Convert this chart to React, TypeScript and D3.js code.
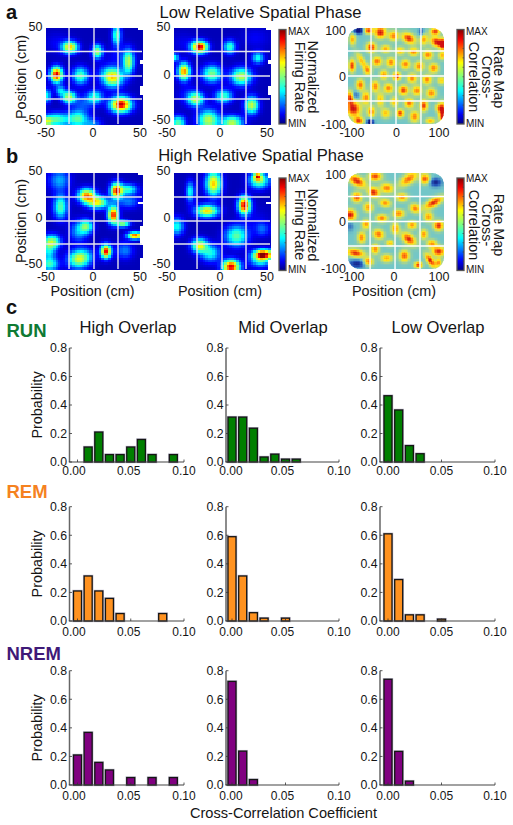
import React from "react";
import * as d3 from "d3";

const FONT = "'Liberation Sans', Arial, sans-serif";
const TEXT = "#151515";

// peaks: [x cm, y cm, amplitude, sigma along, sigma across, rotation deg]
type Peak = number[];
const lowMapA: Peak[] = [
  [-39, 2, 1, 3.5, 4.5], [-25, 30.5, 0.72, 4.5, 3.5], [-14, 1, 0.45, 4.5, 5], [3.5, 26, 0.55, 3, 4],
  [23.6, 43, 0.45, 2.6, 6], [19.4, -0.7, 0.72, 6, 5.5], [36, 15, 0.55, 3.2, 7], [28, -29, 1, 6, 4.5],
  [-26, -21.5, 0.6, 4, 3.5], [-35, -14.6, 0.3, 3, 3], [1, -21.5, 0.4, 4.5, 4], [-49, -20, 0.35, 2.5, 4],
  [-39, -45, 0.45, 7, 4], [-49, -47, 0.42, 3, 3], [-17, -44, 0.45, 6, 5], [-1, -49, 0.2, 5, 3],
  [-11, -28, 0.14, 6, 5], [28, 22, 0.08, 8, 6], [-38, 35, 0.06, 8, 6], [10, 5, 0.06, 5, 5],
];
const lowMapB: Peak[] = [
  [-23.4, 30.8, 1, 4.6, 3.5], [-39.5, 5.2, 0.8, 3.5, 5], [-49, 20, 0.36, 2.2, 2.4], [-10.5, 2.8, 0.5, 5.5, 5],
  [8, 30.8, 0.4, 3.5, 4], [20, 0, 0.58, 6, 5], [37.4, 19.6, 0.36, 3.5, 3.5], [-27, -23.4, 0.55, 4.5, 4],
  [1.7, -20.6, 0.42, 5, 4], [30.8, -29.7, 0.6, 4, 5], [-14, -45.5, 0.58, 6, 6], [10.5, -48, 0.58, 6, 4],
  [-45.5, -48, 0.45, 4, 4], [-35, -20, 0.1, 6, 6], [35, 40, 0.06, 8, 6], [-40, 35, 0.05, 7, 6],
];
const highMapA: Peak[] = [
  [-7.6, 27, 0.8, 5, 4], [3.5, 20, 0.65, 6, 3.5], [23.6, 32, 0.95, 3.5, 4.5], [36, 33.7, 0.4, 5, 3],
  [20, 7, 0.92, 3, 5], [30, -2.4, 0.55, 4, 2], [-35, 15.6, 0.45, 4, 7], [-36, 43, 0.25, 6, 6],
  [-8, -5, 0.45, 4, 4], [-16, -10, 0.25, 5, 6], [-44, -21, 0.55, 5, 4], [-47, -31, 0.3, 4, 5],
  [43, -14.6, 0.88, 4.5, 2], [12.5, -31, 0.98, 3, 4], [-17, -40, 0.45, 6, 5], [-46, -44.5, 0.4, 5, 4],
  [-11, -36, 0.28, 6, 5], [32, -30, 0.2, 5, 5], [36, 21, 0.2, 6, 4],
];
const highMapB: Peak[] = [
  [-8.7, 39.5, 0.72, 4.5, 7], [-33, 31, 0.35, 2.5, 6], [-15.7, 11, 0.7, 6.5, 3.5], [23.4, 17, 1, 3.5, 5],
  [38.5, 43, 0.55, 5.5, 4.5], [37, 47, 0.62, 2.2, 2], [-47, -5, 0.36, 4, 5], [-23.4, -25, 0.65, 4.5, 4],
  [-12, -33, 0.36, 5.5, 5], [15, -15, 0.46, 6.5, 6], [43, -34, 0.98, 5.5, 2.8], [40, -40, 0.4, 6, 4],
  [9.5, -47, 0.98, 5, 4], [42, -8, 0.16, 4, 4], [35, 0, 0.05, 8, 8],
];
const lowCorr: Peak[] = [
  [-58, 96, 0.9, 6, 4], [-33, 92, 1, 7, 7], [-6, 85, 0.75, 6, 6], [26, 80, 0.95, 9, 6, -30], [57, 78, 0.65, 5, 7],
  [-91, 78, 0.65, 4, 7], [81, 94, 0.9, 6, 4], [85, 72, 1, 9, 6, -30], [98, 68, 0.9, 4, 7], [-52, 61, 0.95, 6, 6],
  [-22, 58, 0.65, 6, 5], [8, 54, 0.6, 6, 5], [36, 52, 0.75, 6, 5], [66, 46, 0.75, 6, 6], [96, 44, 0.6, 5, 5],
  [-40, 32, 0.8, 6, 6], [-11, 30, 0.75, 6, 6], [19, 26, 0.75, 6, 6], [48, 22, 0.75, 6, 6], [78, 18, 0.75, 6, 6],
  [-72, 33, 0.6, 12, 4, -60], [-59, 13, 0.6, 5, 6], [-92, 23, 0.9, 4, 8], [-26, 4, 0.7, 5, 6], [1, 1, 1, 5, 5],
  [33, -3, 0.75, 6, 6], [64, -6, 0.75, 6, 6], [94, -8, 0.55, 5, 5], [-75, -17, 0.8, 5, 7], [-44, -20, 0.75, 5, 7],
  [-16, -24, 0.75, 6, 6], [15, -28, 0.9, 6, 6], [43, -29, 0.75, 6, 6], [73, -34, 0.75, 6, 6], [-63, -44, 0.75, 5, 8],
  [-33, -48, 0.6, 5, 9], [-4, -52, 0.6, 5, 6], [27, -55, 0.8, 6, 6], [57, -60, 0.9, 5, 7], [88, -64, 0.4, 5, 5],
  [-52, -73, 0.75, 5, 7], [-22, -76, 0.6, 6, 6], [8, -76, 0.9, 5, 5], [38, -83, 0.75, 6, 7], [71, -92, 0.6, 6, 4],
  [-89, -67, 1, 9, 10], [-96, -43, 0.9, 4, 8], [-78, -92, 0.85, 6, 5], [96, -71, 1, 5, 10], [98, -88, 0.6, 4, 5],
  [-54, -95, -0.9, 4, 4], [-78, 96, -0.8, 6, 4], [52, 92, -0.5, 3, 5], [-85, -39, -0.35, 5, 5],
];
const highCorr: Peak[] = [
  [-82, 85, 0.95, 12, 6, -30], [-44, 94, 0.9, 8, 5], [-19.5, 70, 0.75, 8, 6, -10], [26, 89, 0.8, 13, 6, 35], [60, 89, 0.85, 6, 6],
  [-47, 61, 0.95, 7, 6, -30], [-82, 51, 0.9, 6, 6], [12, 51, 0.75, 7, 5], [78, 40, 0.95, 13, 5, 30], [-23, 39, 0.7, 7, 5, -10],
  [39, 28, 0.75, 6.5, 5.5, -25], [-58, 30, 0.7, 6, 6], [67, 10, 0.7, 5.5, 6], [-96, 14, 1, 7, 7], [5, 17, 0.75, 7, 5],
  [-30, 7, 0.75, 7, 5], [-63, -5, 0.7, 5, 6], [-2, -14, 0.7, 5, 7], [33, -7, 0.7, 6, 5], [88, -8, 0.95, 6, 6],
  [-37, -26, 0.8, 7, 6, -25], [26, -36, 0.95, 10, 6, -40], [-72, -33, 0.75, 5, 7], [57, -26, 0.7, 5, 6], [-13, -45, 0.6, 5, 4],
  [74, -46, 0.7, 6, 5], [-44, -57, 0.75, 5, 6], [17, -71, 0.85, 6, 7], [-20, -76, 0.65, 7, 5], [-58, -83, 0.8, 6, 5],
  [-85, -65, 0.95, 11, 5, -10], [46, -90, 0.9, 5, 4], [71, -81, 0.95, 10, 4, -55], [88, -62, 0.95, 8, 6], [88, -85, 0.7, 4, 5],
  [82, 82, -0.6, 7, 5], [-82, -88, -0.6, 10, 5], [-96, -8, -0.3, 4, 6],
];

// no-data areas: [x0, x1, y0, y1] in cm
const holesLowA = [[44.4, 50, 47, 50], [47.5, 50, 13, 17], [47.5, 50, -19, -10]];
const holesLowB = [[45.5, 50, 48, 50], [48, 50, 12, 17], [48, 50, -19, -10]];
const holesHighA = [[44, 50, 47, 50], [46, 50, 18, 20], [48, 50, -25, -4], [47, 50, -50, -38]];
const holesHighB = [[47, 50, 46, 50], [46, 50, 17, 20], [48, 50, -50, -41]];

const binStarts = d3.range(0, 10).map((i) => i / 100);
const yTicks = [0, 0.2, 0.4, 0.6, 0.8];
const xTicks = [0, 0.05, 0.1];

const runHigh = [0, 0.105, 0.21, 0.052, 0.052, 0.105, 0.158, 0.052, 0, 0.052];
const runMid = [0.315, 0.315, 0.237, 0.035, 0.055, 0.02, 0.02, 0, 0, 0];
const runLow = [0.465, 0.365, 0.115, 0.058, 0, 0, 0, 0, 0, 0];
const remHigh = [0.21, 0.315, 0.21, 0.158, 0.052, 0, 0, 0, 0.052, 0];
const remMid = [0.59, 0.315, 0.058, 0.02, 0, 0.02, 0, 0, 0, 0];
const remLow = [0.61, 0.29, 0.043, 0.043, 0, 0.013, 0, 0, 0, 0];
const nremHigh = [0.21, 0.368, 0.158, 0.105, 0, 0.052, 0, 0.052, 0, 0.052];
const nremMid = [0.725, 0.237, 0.038, 0, 0, 0, 0, 0, 0, 0];
const nremLow = [0.74, 0.235, 0.027, 0, 0, 0, 0, 0, 0, 0];

const jetStops = [0, 0.11, 0.35, 0.5, 0.65, 0.89, 1];
const jetColors = ["#00007f", "#0000ff", "#00ffff", "#80ff80", "#ffff00", "#ff0000", "#7f0000"];
const jet = d3.scaleLinear<string>().domain(jetStops).range(jetColors).clamp(true);
const corrStops = [0, 0.2, 0.4, 0.56, 0.7, 0.86, 1];
const corrColors = ["#101880", "#2a60c0", "#72c6c8", "#c4dc70", "#ffe41a", "#ff7a10", "#d01010"];
const corrColor = d3.scaleLinear<string>().domain(corrStops).range(corrColors).clamp(true);

function fieldAt(peaks: Peak[], x: number, y: number, widen: number) {
  let v = 0;
  for (const [px, py, a, sx0, sy0, rot = 0] of peaks) {
    const sx = sx0 * widen;
    const sy = sy0 * widen;
    const r = (rot * Math.PI) / 180;
    const dx = x - px;
    const dy = y - py;
    const u = dx * Math.cos(r) + dy * Math.sin(r);
    const w = -dx * Math.sin(r) + dy * Math.cos(r);
    v += a * Math.exp(-0.5 * ((u * u) / (sx * sx) + (w * w) / (sy * sy)));
  }
  return v;
}

function Label({ x, y, size = 12, anchor = "middle", rotate = 0, weight = "normal", fill = TEXT, children }: any) {
  return (
    <text
      x={rotate ? 0 : x}
      y={rotate ? 0 : y}
      transform={rotate ? `translate(${x},${y}) rotate(${rotate})` : undefined}
      fontFamily={FONT}
      fontSize={size}
      fontWeight={weight}
      fill={fill}
      textAnchor={anchor}
    >
      {children}
    </text>
  );
}

function HeatPanel({ peaks, holes = [], left, top, extent, gridX, gridY, corr = false, id, xLabels, yLabels, yRight, xBase }: any) {
  const size = 96;
  const n = corr ? 64 : 40;
  const x = d3.scaleLinear().domain([-extent, extent]).range([left, left + size]);
  const y = d3.scaleLinear().domain([-extent, extent]).range([top + size, top]);
  const step = (2 * extent) / n;
  const cells = [];
  for (let i = 0; i < n; i++) {
    for (let j = 0; j < n; j++) {
      const cx = -extent + (i + 0.5) * step;
      const cy = -extent + (j + 0.5) * step;
      if (holes.some((h: number[]) => cx >= h[0] && cx <= h[1] && cy >= h[2] && cy <= h[3])) continue;
      const f = fieldAt(peaks, cx, cy, corr ? 1.2 : 1.2);
      const fill = corr ? corrColor(0.4 + f * 0.6) : jet(0.05 + f * 0.9);
      cells.push(
        <rect key={i + "-" + j} x={x(cx - step / 2)} y={y(cy + step / 2)} width={size / n + 0.6} height={size / n + 0.6} fill={fill} />
      );
    }
  }
  return (
    <g>
      {corr && (
        <clipPath id={id}>
          <rect x={left} y={top} width={size} height={size} rx={12} />
        </clipPath>
      )}
      <g clipPath={corr ? `url(#${id})` : undefined}>
        <g shapeRendering="crispEdges">{cells}</g>
        {gridX.map((g: number) => (
          <line key={"x" + g} x1={x(g)} x2={x(g)} y1={top} y2={top + size} stroke={corr ? "#fff" : "#e6e6ee"} strokeWidth={1.4} />
        ))}
        {gridY.map((g: number) => (
          <line key={"y" + g} x1={left} x2={left + size} y1={y(g)} y2={y(g)} stroke={corr ? "#fff" : "#e6e6ee"} strokeWidth={1.4} />
        ))}
      </g>
      {yLabels.map((t: any) => (
        <Label key={"yl" + t.text} x={yRight} y={t.y} anchor="end" size={12.5}>{t.text}</Label>
      ))}
      {xLabels.map((t: any) => (
        <Label key={"xl" + t.text} x={t.x} y={xBase} size={12.5}>{t.text}</Label>
      ))}
    </g>
  );
}

function ColorBar({ x, top, bottom, id, maxY, minY }: any) {
  const stops = d3.range(0, 1.001, 0.05);
  const ticks = d3.range(1, 10).map((i) => top + ((bottom - top) * i) / 10);
  return (
    <g>
      <defs>
        <linearGradient id={id} x1="0" y1="1" x2="0" y2="0">
          {stops.map((s) => (
            <stop key={s} offset={s} stopColor={jet(s)} />
          ))}
        </linearGradient>
      </defs>
      <rect x={x} y={top} width={7} height={bottom - top} fill={`url(#${id})`} stroke="#555" strokeWidth={1.3} />
      {ticks.map((t) => (
        <line key={t} x1={x + 5.5} x2={x + 7} y1={t} y2={t} stroke="#444" strokeWidth={0.7} />
      ))}
      <Label x={x + 9} y={maxY} anchor="start" size={10}>MAX</Label>
      <Label x={x + 9} y={minY} anchor="start" size={10}>MIN</Label>
    </g>
  );
}

function Hist({ values, color, col, rowTop, rowBase, labelBase, probability }: any) {
  const c = columns[col];
  const x = d3.scaleLinear().domain([0, 0.1]).range([c.x0, c.x1]);
  const y = d3.scaleLinear().domain([0, 0.8]).range([rowBase, rowTop]);
  const bw = 8;
  return (
    <g>
      {binStarts.map((b, i) =>
        values[i] > 0 ? (
          <g key={b}>
            <rect x={x(b) - bw / 2} y={y(values[i])} width={bw} height={rowBase - y(values[i])} fill="none" stroke="#b9b6c8" strokeWidth={2.4} />
            <rect x={x(b) - bw / 2} y={y(values[i])} width={bw} height={rowBase - y(values[i])} fill={color} stroke="#151515" strokeWidth={1.3} />
          </g>
        ) : null
      )}
      <line x1={c.axis} x2={c.axis} y1={rowTop} y2={rowBase} stroke="#666" strokeWidth={1.5} />
      <line x1={c.axis - 0.7} x2={c.x1} y1={rowBase} y2={rowBase} stroke="#444" strokeWidth={1.2} />
      {yTicks.map((t) => (
        <g key={t}>
          <line x1={c.axis} x2={c.axis + 2.5} y1={y(t)} y2={y(t)} stroke="#333" strokeWidth={0.8} />
          <Label x={c.axis - 2.5} y={y(t) + 4.4} anchor="end" size={12.3}>{t.toFixed(1)}</Label>
        </g>
      ))}
      {xTicks.map((t, i) => (
        <g key={t}>
          <line x1={x(t)} x2={x(t)} y1={rowBase} y2={rowBase - 2.5} stroke="#333" strokeWidth={0.8} />
          <Label x={x(t) + c.labelShift[i]} y={labelBase} size={12}>{t.toFixed(2)}</Label>
        </g>
      ))}
      {probability && <Label x={42} y={(rowBase + rowTop) / 2} rotate={-90} size={14.4}>Probability</Label>}
    </g>
  );
}

const columns = [
  { axis: 69.5, x0: 77.5, x1: 184, labelShift: [-3.5, -2, 0] },
  { axis: 226, x0: 232, x1: 339, labelShift: [-1, -3, 0] },
  { axis: 380, x0: 388, x1: 495, labelShift: [0, 0, 0] },
];

export default function App() {
  const rows = [
    { top: 348, base: 462, lab: 475, color: "#007f00", series: [runHigh, runMid, runLow] },
    { top: 506.7, base: 621, lab: 635.5, color: "#ff9220", series: [remHigh, remMid, remLow] },
    { top: 670.7, base: 785, lab: 800, color: "#800080", series: [nremHigh, nremMid, nremLow] },
  ];
  const ratesY = (a: number) => [
    { text: "50", y: a + 6 },
    { text: "0", y: a + 53.5 },
    { text: "-50", y: a + 99 },
  ];
  return (
    <svg
      width={513}
      height={825}
      viewBox="0 0 513 825"
      style={{ position: "absolute", left: 0, top: 0, background: "#fff" }}
    >
      <Label x={6} y={19} anchor="start" size={20} weight="bold" fill="#111">a</Label>
      <Label x={6} y={163} anchor="start" size={20} weight="bold" fill="#111">b</Label>
      <Label x={6} y={314} anchor="start" size={20} weight="bold" fill="#111">c</Label>
      <Label x={260.5} y={18} size={16.6}>Low Relative Spatial Phase</Label>
      <Label x={261} y={161} size={16.6}>High Relative Spatial Phase</Label>

      <HeatPanel peaks={lowMapA} holes={holesLowA} left={46} top={28} extent={50} gridX={[-26, 0, 25]} gridY={[25.5, 0, -24]}
        yLabels={ratesY(25)} yRight={42.5} xBase={137} xLabels={[{ text: "-50", x: 46 }, { text: "0", x: 93 }, { text: "50", x: 140 }]} />
      <HeatPanel peaks={lowMapB} holes={holesLowB} left={174} top={28} extent={50} gridX={[-26, 0, 25]} gridY={[25.5, 0, -24]}
        yLabels={ratesY(25)} yRight={170.5} xBase={137} xLabels={[{ text: "-50", x: 167 }, { text: "0", x: 220 }, { text: "50", x: 267 }]} />
      <HeatPanel peaks={lowCorr} left={348} top={28} extent={100} corr id="corrA" gridX={[-52, 0, 52]} gridY={[52, 0, -52]}
        yLabels={[{ text: "100", y: 35 }, { text: "0", y: 80.5 }, { text: "-100", y: 128.5 }]} yRight={346} xBase={137}
        xLabels={[{ text: "-100", x: 352 }, { text: "0", x: 396.5 }, { text: "100", x: 439 }]} />

      <HeatPanel peaks={highMapA} holes={holesHighA} left={46} top={173} extent={50} gridX={[-26, 0, 25]} gridY={[25, 0, -24]}
        yLabels={ratesY(168.5)} yRight={42.5} xBase={281} xLabels={[{ text: "-50", x: 46 }, { text: "0", x: 93 }, { text: "50", x: 140 }]} />
      <HeatPanel peaks={highMapB} holes={holesHighB} left={174} top={173} extent={50} gridX={[-26, 0, 25]} gridY={[25, 0, -24]}
        yLabels={ratesY(168.5)} yRight={170.5} xBase={281} xLabels={[{ text: "-50", x: 167 }, { text: "0", x: 220 }, { text: "50", x: 267 }]} />
      <HeatPanel peaks={highCorr} left={348} top={173} extent={100} corr id="corrB" gridX={[-54, -2, 50]} gridY={[51, -1, -52]}
        yLabels={[{ text: "100", y: 178.5 }, { text: "0", y: 226 }, { text: "-100", y: 272.5 }]} yRight={346} xBase={281}
        xLabels={[{ text: "-100", x: 352 }, { text: "0", x: 394 }, { text: "100", x: 439 }]} />

      <ColorBar x={279} top={29.5} bottom={124} id="cb1" maxY={35} minY={127} />
      <ColorBar x={457} top={29.5} bottom={124} id="cb2" maxY={35} minY={127} />
      <ColorBar x={279} top={178} bottom={270.5} id="cb3" maxY={182} minY={273} />
      <ColorBar x={457} top={178} bottom={270.5} id="cb4" maxY={182} minY={273} />

      {[77, 225].map((cy) => (
        <g key={cy}>
          <Label x={308} y={cy} rotate={90} size={14.4}>Normalized</Label>
          <Label x={295} y={cy} rotate={90} size={14.4}>Firing Rate</Label>
          <Label x={494} y={cy} rotate={90} size={14.4}>Rate Map</Label>
          <Label x={482} y={cy} rotate={90} size={14.4}>Cross-</Label>
          <Label x={469} y={cy} rotate={90} size={14.4}>Correlation</Label>
        </g>
      ))}

      {[77, 221].map((cy) => (
        <Label key={cy} x={26} y={cy} rotate={-90} size={14.4}>Position (cm)</Label>
      ))}
      <Label x={92.5} y={296} size={14.4}>Position (cm)</Label>
      <Label x={220} y={296} size={14.4}>Position (cm)</Label>
      <Label x={394} y={296} size={14.4}>Position (cm)</Label>

      <Label x={128} y={333} size={16.6}>High Overlap</Label>
      <Label x={283} y={333} size={16.6}>Mid Overlap</Label>
      <Label x={438} y={333} size={16.6}>Low Overlap</Label>

      <Label x={6.5} y={337} anchor="start" size={18.5} weight="bold" fill="#0f7a33">RUN</Label>
      <Label x={6.5} y={497.5} anchor="start" size={18.5} weight="bold" fill="#f5821f">REM</Label>
      <Label x={6.5} y={660} anchor="start" size={18.5} weight="bold" fill="#3f1a78">NREM</Label>

      {rows.map((r, ri) =>
        r.series.map((values, ci) => (
          <Hist key={ri + "-" + ci} values={values} color={r.color} col={ci} rowTop={r.top} rowBase={r.base} labelBase={r.lab} probability={ci === 0} />
        ))
      )}
      <Label x={283.5} y={818} size={14.6}>Cross-Correlation Coefficient</Label>
    </svg>
  );
}
